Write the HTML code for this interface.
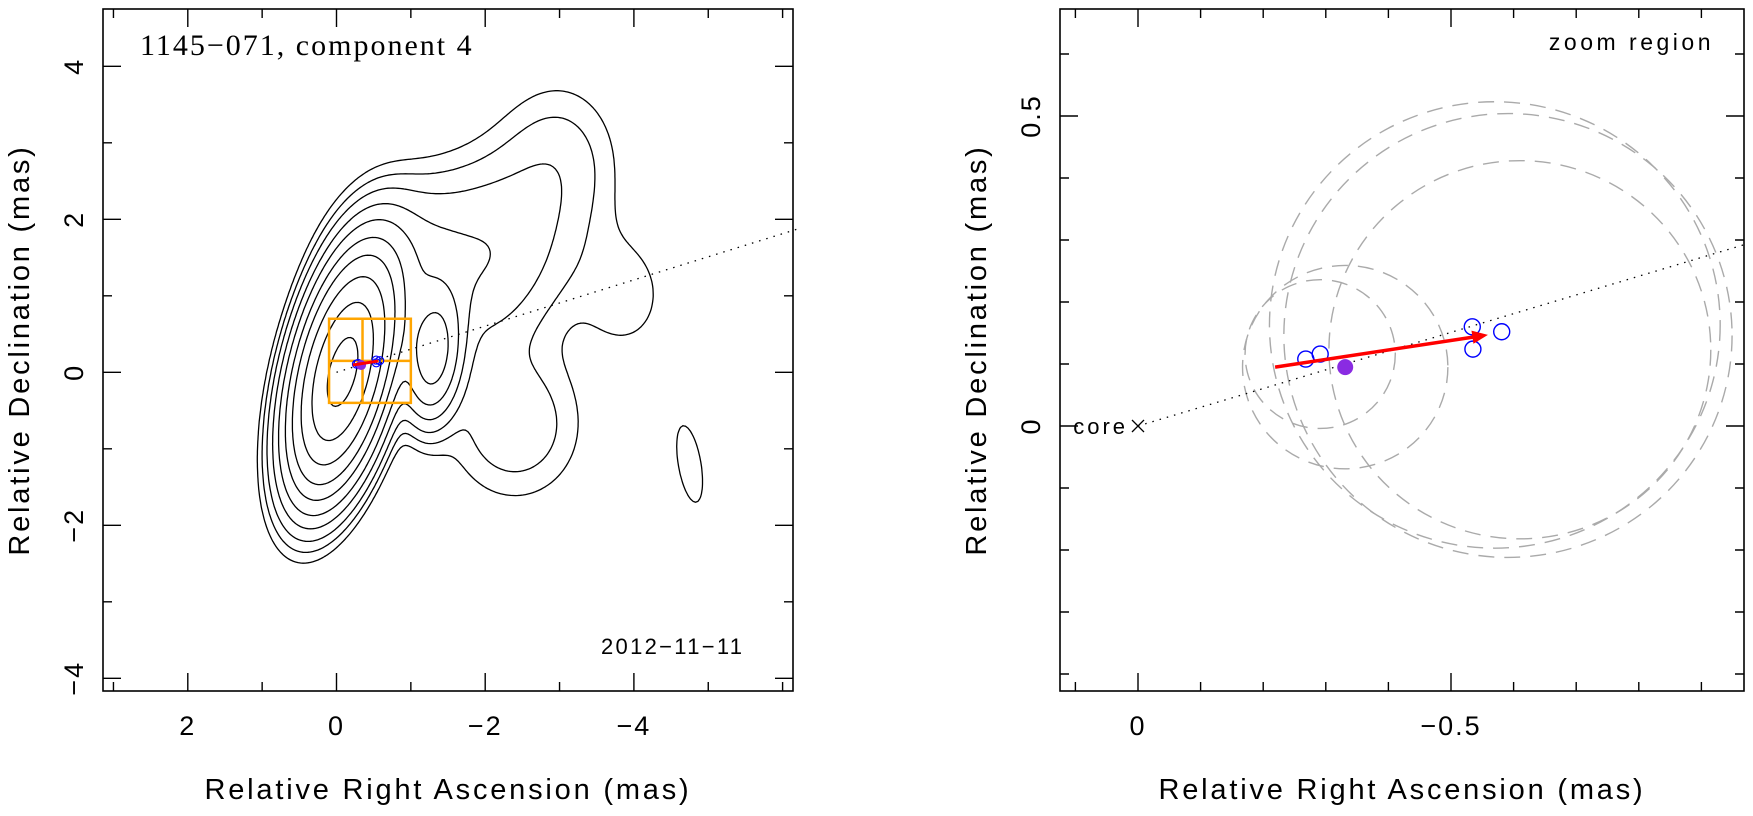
<!DOCTYPE html>
<html><head><meta charset="utf-8"><style>
body{margin:0;background:#fff}
svg text{font-family:"Liberation Sans",sans-serif;fill:#000}
</style></head><body>
<svg id="c" width="1753" height="811" xmlns="http://www.w3.org/2000/svg">
<g id="L"></g>
<g id="R"></g>
</svg>
<script>
// ---- data ----
const leftXTicks=[2,0,-2,-4];
const leftYTicks=[4,2,0,-2,-4];
const rightXTicks=[0,-0.5];
const rightYTicks=[0.5,0];
// gaussian source components: [ra, dec, amp, sigmaMajor, sigmaMinor, angleDeg]
const srcComps=[[-0.08,0.0,1,0.8,0.31,14],[-1.3,0.25,0.13,0.5,0.22,5],[-0.8,1.4,0.03,0.65,0.5,20],[-2.0,1.5,0.03,0.85,0.7,30],[-3.0,2.8,0.012,0.7,0.55,0],[-3.9,1.0,0.008,0.6,0.45,0],[-2.4,-0.7,0.016,0.65,0.6,0],[-4.75,-1.2,0.01,0.5,0.15,-10]];
const contourLevels=[0.006,0.0105,0.018,0.032,0.056,0.1,0.17,0.3,0.52,0.85];
// zoom region points (mas)
const blueRA=[-0.268,-0.291,-0.534,-0.535,-0.581];
const blueDec=[0.108,0.116,0.160,0.124,0.152];
const purpleRA=[-0.331], purpleDec=[0.095];
const arrowRA=[-0.219,-0.559], arrowDec=[0.095,0.147];
// error circles
const circRA=[-0.291,-0.331,-0.57,-0.591,-0.61];
const circDec=[0.116,0.095,0.163,0.146,0.123];
const circR=[0.12,0.164,0.36,0.358,0.305];
const jetSlope=0.302; // dec/(-ra) of dotted line

const NS="http://www.w3.org/2000/svg";
function el(p,t,a){const e=document.createElementNS(NS,t);for(const k in a)e.setAttribute(k,a[k]);p.appendChild(e);return e;}
function mk(x0,x1,y0,y1,X0,X1,Y0,Y1){return{x:v=>X0+(v-x0)/(x1-x0)*(X1-X0),y:v=>Y0+(v-y0)/(y1-y0)*(Y1-Y0)};}

function frame(g,b,ax,xt,yt,xm,ym,xmin,xmax,ymin,ymax,fmt){
  const r=el(g,'rect',{x:b[0],y:b[1],width:b[2]-b[0],height:b[3]-b[1],fill:'none',stroke:'#000','stroke-width':1.6});
  
  let d='';
  for(let k=Math.ceil(xmin/xm-1e-9);k*xm<=xmax+1e-9;k++){const v=k*xm;const X=ax.x(v);const big=xt.some(t=>Math.abs(t-v)<1e-6);const L=big?18:9;d+=`M${X},${b[3]}v${-L}M${X},${b[1]}v${L}`;}
  for(let k=Math.ceil(ymin/ym-1e-9);k*ym<=ymax+1e-9;k++){const v=k*ym;const Y=ax.y(v);const big=yt.some(t=>Math.abs(t-v)<1e-6);const L=big?18:9;d+=`M${b[0]},${Y}h${L}M${b[2]},${Y}h${-L}`;}
  el(g,'path',{d,stroke:'#000','stroke-width':1.4,fill:'none'});
  xt.forEach(v=>{const t=el(g,'text',{x:ax.x(v),y:735,'font-size':27,'text-anchor':'middle','letter-spacing':2});t.textContent=fmt(v);
    });
  yt.forEach(v=>{const t=el(g,'text',{x:0,y:0,'font-size':27,'text-anchor':'middle','letter-spacing':2,transform:`translate(${b[0]-20},${ax.y(v)}) rotate(-90)`});t.textContent=fmt(v);
    });
  const xl=el(g,'text',{x:(b[0]+b[2])/2,y:799,'font-size':29,'text-anchor':'middle','letter-spacing':2.8});xl.textContent='Relative Right Ascension (mas)';
  
  const yl=el(g,'text',{x:0,y:0,'font-size':29,'text-anchor':'middle','letter-spacing':2.8,transform:`translate(${b[0]-74},${(b[1]+b[3])/2}) rotate(-90)`});yl.textContent='Relative Declination (mas)';
  
}
const fmtL=v=>v<0?'\u2212'+(-v):''+v;

// ---- left ----
const L=document.getElementById('L');
const bl=[103,9,793,691];
const axL=mk(0,-2,0,-2,336.5,485.2,372.3,525.3);
frame(L,bl,axL,leftXTicks,leftYTicks,1,1,-6.1,3.1,-4.5,4.8,fmtL);
function fld(ra,de){let s=0;for(const c of srcComps){const a=c[5]*Math.PI/180;const dx=ra-c[0],dy=de-c[1];const u=dx*Math.cos(a)+dy*Math.sin(a),w=-dx*Math.sin(a)+dy*Math.cos(a);s+=c[2]*Math.exp(-0.5*((w/c[3])**2+(u/c[4])**2));}return s;}
(function(){
  const st=2.5,nx=Math.floor((bl[2]-bl[0])/st),ny=Math.floor((bl[3]-bl[1])/st);
  const toRA=X=>(X-336.5)/(485.2-336.5)*-2,toDE=Y=>(Y-372.3)/(525.3-372.3)*-2;
  const V=[];for(let j=0;j<=ny;j++){V.push([]);for(let i=0;i<=nx;i++)V[j].push(fld(toRA(bl[0]+i*st),toDE(bl[1]+j*st)));}
  contourLevels.forEach(lv=>{
    let d='';
    for(let j=0;j<ny;j++){for(let i=0;i<nx;i++){
      const a=V[j][i],b=V[j][i+1],c=V[j+1][i+1],e=V[j+1][i];const x=bl[0]+i*st,y=bl[1]+j*st;
      const pts=[];
      const ip=(p,q)=>(lv-p)/(q-p);
      if((a>lv)!=(b>lv))pts.push([x+st*ip(a,b),y]);
      if((b>lv)!=(c>lv))pts.push([x+st,y+st*ip(b,c)]);
      if((e>lv)!=(c>lv))pts.push([x+st*ip(e,c),y+st]);
      if((a>lv)!=(e>lv))pts.push([x,y+st*ip(a,e)]);
      for(let k=0;k+1<pts.length;k+=2)d+=`M${pts[k][0].toFixed(1)},${pts[k][1].toFixed(1)}L${pts[k+1][0].toFixed(1)},${pts[k+1][1].toFixed(1)}`;
    }}
    const p=el(L,'path',{d,stroke:'#000','stroke-width':1.3,fill:'none','stroke-linecap':'round'});
    
    
  });
})();
{const p=el(L,'path',{d:`M${axL.x(0)},${axL.y(0)}L${axL.x(-6.2)},${axL.y(6.2*jetSlope)}`,stroke:'#000','stroke-width':1.3,'stroke-dasharray':'1.5 6',fill:'none'});
}
{const x0=axL.x(0.1),x1=axL.x(-1),y0=axL.y(0.7),y1=axL.y(-0.4);
const p=el(L,'path',{d:`M${x0},${y0}H${x1}V${y1}H${x0}ZM${axL.x(-0.35)},${y0}V${y1}M${x0},${axL.y(0.15)}H${x1}`,stroke:'#ffa500','stroke-width':2.5,fill:'none'});
}
blueRA.forEach((r,i)=>{const c=el(L,'circle',{cx:axL.x(r),cy:axL.y(blueDec[i]),r:4,fill:'none',stroke:'#00f','stroke-width':1.2});});
{const c=el(L,'circle',{cx:axL.x(purpleRA[0]),cy:axL.y(purpleDec[0]),r:5,fill:'#8a2be2'});}
{const p=el(L,'line',{x1:axL.x(arrowRA[0]),y1:axL.y(arrowDec[0]),x2:axL.x(arrowRA[1]),y2:axL.y(arrowDec[1]),stroke:'#f00','stroke-width':3});}
{const t=el(L,'text',{x:140,y:55,'font-size':30,'letter-spacing':2});t.style.fontFamily='"Liberation Serif",serif';t.textContent='1145\u2212071, component 4';}
{const t=el(L,'text',{x:601,y:654,'font-size':22,fill:'#222','letter-spacing':2.3});t.textContent='2012\u221211\u221211';}

// ---- right ----
const R=document.getElementById('R');
const br=[1060,9,1744,691];
const axR=mk(0,-0.5,0,0.5,1138,1451,426,116);
frame(R,br,axR,rightXTicks,rightYTicks,0.1,0.1,-0.96,0.12,-0.42,0.67,fmtL);
const cp=el(R,'clipPath',{id:'rc'});el(cp,'rect',{x:br[0],y:br[1],width:br[2]-br[0],height:br[3]-br[1]});
const RG=el(R,'g',{'clip-path':'url(#rc)'});
circR.forEach((r,i)=>{const c=el(RG,'ellipse',{cx:axR.x(circRA[i]),cy:axR.y(circDec[i]),rx:r*626,ry:r*620,fill:'none',stroke:'#aaa','stroke-width':1.4,'stroke-dasharray':'16 10'});});
{const p=el(RG,'path',{d:`M${axR.x(0)},${axR.y(0)}L${axR.x(-1)},${axR.y(1*jetSlope)}`,stroke:'#000','stroke-width':1.3,'stroke-dasharray':'1.5 6',fill:'none'});}
{const x=axR.x(0),y=axR.y(0);const p=el(R,'path',{d:`M${x-6},${y-6}L${x+6},${y+6}M${x-6},${y+6}L${x+6},${y-6}`,stroke:'#000','stroke-width':1.3});
const t=el(R,'text',{x:x-10,y:y+8,'font-size':22,'text-anchor':'end','letter-spacing':3});t.textContent='core';}
blueRA.forEach((r,i)=>{const c=el(R,'circle',{cx:axR.x(r),cy:axR.y(blueDec[i]),r:8,fill:'none',stroke:'#00f','stroke-width':1.4});});
{const c=el(R,'circle',{cx:axR.x(purpleRA[0]),cy:axR.y(purpleDec[0]),r:8,fill:'#8a2be2'});}
{const x1=axR.x(arrowRA[0]),y1=axR.y(arrowDec[0]),x2=axR.x(arrowRA[1]),y2=axR.y(arrowDec[1]);
const a=Math.atan2(y2-y1,x2-x1),h=17;
const g=el(R,'g',{});
el(g,'line',{x1,y1,x2:x2-10*Math.cos(a),y2:y2-10*Math.sin(a),stroke:'#f00','stroke-width':3.5});
el(g,'path',{d:`M${x2},${y2}L${x2-h*Math.cos(a-0.4)},${y2-h*Math.sin(a-0.4)}L${x2-h*Math.cos(a+0.4)},${y2-h*Math.sin(a+0.4)}Z`,fill:'#f00'});}
{const t=el(R,'text',{x:1714,y:50,'font-size':23,'text-anchor':'end',fill:'#222','letter-spacing':3.5});t.textContent='zoom region';}
</script>
</body></html>
